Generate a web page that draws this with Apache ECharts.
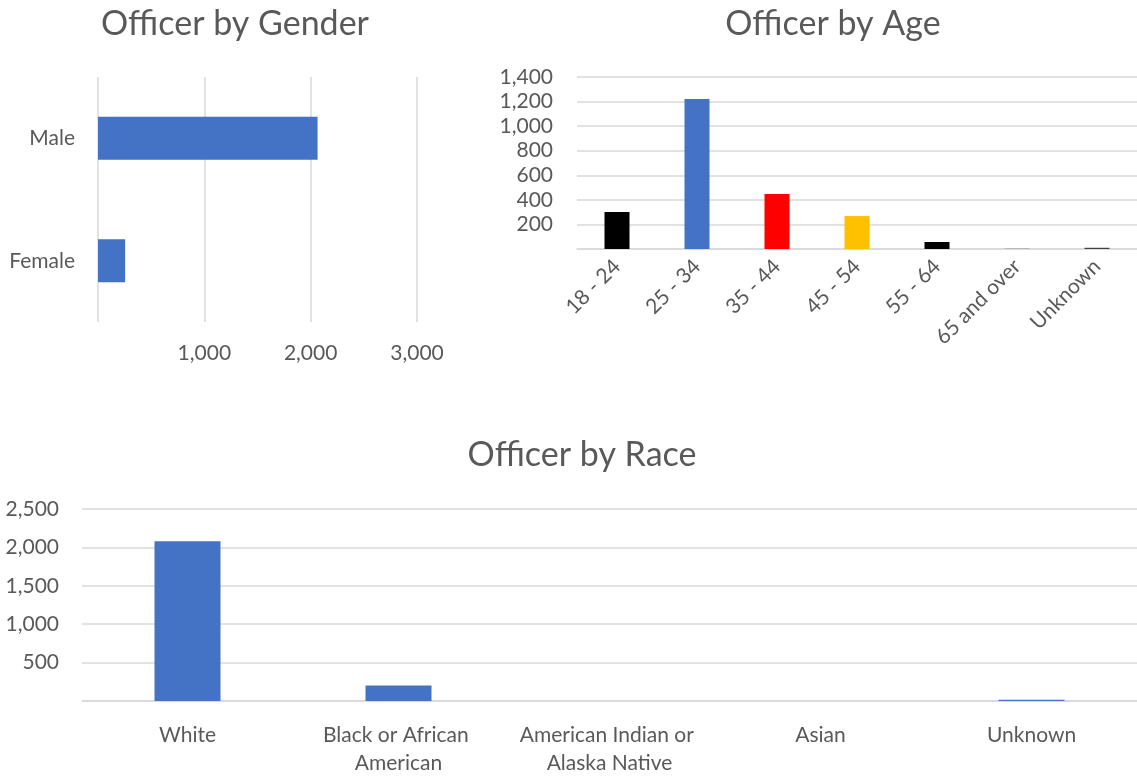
<!DOCTYPE html>
<html>
<head>
<meta charset="utf-8">
<script src="https://cdn.jsdelivr.net/npm/echarts@6/dist/echarts.min.js"></script>
<style>
  html, body { margin: 0; padding: 0; background: #fff; }
  #chart { width: 1137px; height: 777px; }
</style>
</head>
<body>
<div id="chart"></div>
<script>
// gender
const genderCats = ['Male', 'Female'];
const genderVals = [2065, 255];

// age groups
const ageCats = ['18 - 24', '25 - 34', '35 - 44', '45 - 54', '55 - 64', '65 and over', 'Unknown'];
const ageVals = [301, 1220, 447, 268, 57, 3, 10];
const ageColors = ['#000000', '#4472C4', '#FF0000', '#FFC000', '#000000', '#7F7F7F', '#404040'];

// race
const raceCats = ['White', 'Black or African American', 'American Indian or Alaska Native', 'Asian', 'Unknown'];
const raceVals = [2081, 203, 0, 0, 15];

const FONT = 'Lato';
const labelColor = '#595959';
const gridColor = '#D9D9D9';
const blue = '#4472C4';

// excel hides the 0 label on these axes
const fmt = v => v === 0 ? '' : v.toLocaleString('en-US');

const chart = echarts.init(document.getElementById('chart'));

const titleStyle = { fontFamily: FONT, fontSize: 34, fontWeight: 'normal', color: labelColor };

chart.setOption({
  animation: false,
  textStyle: { fontFamily: FONT },
  title: [
    { text: 'Officer by Gender', left: 230, top: 2, textAlign: 'center', textStyle: titleStyle },
    { text: 'Officer by Age', left: 828, top: 2, textAlign: 'center', textStyle: titleStyle },
    { text: 'Officer by Race', left: 577, top: 433, textAlign: 'center', textStyle: titleStyle }
  ],
  grid: [
    { left: 98, top: 77, width: 319, height: 245 },
    { left: 577, top: 77, width: 560, height: 172 },
    { left: 82, top: 509, width: 1056, height: 197 }
  ],
  xAxis: [
    {
      gridIndex: 0, type: 'value', min: 0, max: 3000, interval: 1000,
      axisLine: { show: false }, axisTick: { show: false },
      splitLine: { lineStyle: { color: gridColor, width: 1.5 } },
      axisLabel: { formatter: fmt, color: labelColor, fontSize: 21, margin: 21, fontFamily: FONT }
    },
    {
      gridIndex: 1, type: 'category', data: ageCats,
      axisLine: { lineStyle: { color: gridColor, width: 1.5 } }, axisTick: { show: false },
      axisLabel: { rotate: 45, color: labelColor, fontSize: 21, margin: 14, interval: 0, fontFamily: FONT }
    },
    {
      gridIndex: 2, type: 'category', data: raceCats,
      axisLine: { lineStyle: { color: gridColor, width: 1.5 } }, axisTick: { show: false },
      axisLabel: {
        color: labelColor, fontSize: 21, margin: 20, interval: 0, lineHeight: 28,
        width: 200, overflow: 'break', fontFamily: FONT
      }
    }
  ],
  yAxis: [
    {
      gridIndex: 0, type: 'category', data: genderCats, inverse: true,
      axisLine: { show: false }, axisTick: { show: false },
      axisLabel: { color: labelColor, fontSize: 21, margin: 23, fontFamily: FONT }
    },
    {
      gridIndex: 1, type: 'value', min: 0, max: 1400, interval: 200,
      axisLine: { show: false }, axisTick: { show: false },
      splitLine: { lineStyle: { color: gridColor, width: 1.5 } },
      axisLabel: { formatter: fmt, color: labelColor, fontSize: 21, margin: 24, fontFamily: FONT }
    },
    {
      gridIndex: 2, type: 'value', min: 0, max: 2500, interval: 500,
      axisLine: { show: false }, axisTick: { show: false },
      splitLine: { lineStyle: { color: gridColor, width: 1.5 } },
      axisLabel: { formatter: fmt, color: labelColor, fontSize: 21, margin: 23, fontFamily: FONT }
    }
  ],
  series: [
    {
      type: 'bar', xAxisIndex: 0, yAxisIndex: 0, data: genderVals,
      barWidth: 43, itemStyle: { color: blue }
    },
    {
      type: 'bar', xAxisIndex: 1, yAxisIndex: 1,
      data: ageVals.map((v, i) => ({ value: v, itemStyle: { color: ageColors[i] } })),
      barWidth: 25
    },
    {
      type: 'bar', xAxisIndex: 2, yAxisIndex: 2, data: raceVals,
      barWidth: 66, itemStyle: { color: blue }
    }
  ]
});
</script>
</body>
</html>
